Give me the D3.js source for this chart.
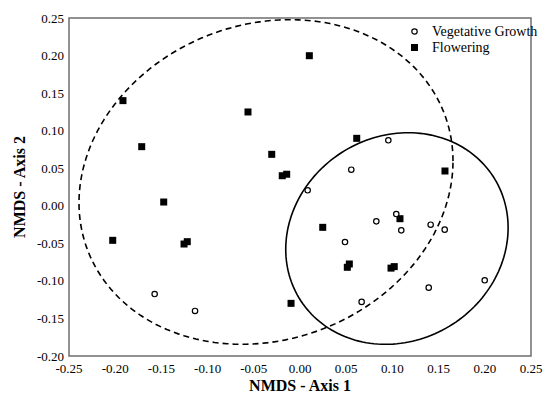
<!DOCTYPE html>
<html>
<head>
<meta charset="utf-8">
<script src="https://cdn.jsdelivr.net/npm/d3@7"></script>
<style>
  body { margin: 0; background: #fff; }
  text { font-family: "Liberation Serif", "Times New Roman", serif; fill: #000; }
  .tick-label { font-size: 13px; }
  .axis-label { font-size: 16px; font-weight: bold; }
  .legend-label { font-size: 14px; }
</style>
</head>
<body>
<div id="chart"></div>
<script>
// Vegetative growth (open circles)
const vegX = [0.0956, 0.0555, 0.0083, 0.0826, 0.0487, 0.0667, 0.1042, 0.1096, 0.1414, 0.1566, 0.1393, 0.1999, -0.1573, -0.1136];
const vegY = [0.0872, 0.0480, 0.0206, -0.0207, -0.0483, -0.1280, -0.0110, -0.0327, -0.0252, -0.0318, -0.1090, -0.0992, -0.1175, -0.1400];

// Flowering (filled squares)
const florX = [-0.1916, -0.1713, 0.0101, -0.0563, 0.0614, -0.0306, -0.0192, -0.0144, 0.1569, -0.1475, -0.2027, -0.1255, -0.1220, 0.0246, 0.0534, 0.0512, -0.0097, 0.1082, 0.0985, 0.1020];
const florY = [0.1400, 0.0787, 0.1998, 0.1249, 0.0898, 0.0685, 0.0400, 0.0420, 0.0463, 0.0050, -0.0460, -0.0509, -0.0478, -0.0287, -0.0775, -0.0819, -0.1299, -0.0172, -0.0830, -0.0810];

// group ellipses: centre, and covariance [varX, cov, varY]
const ellipseNames = ["Flowering", "Vegetative Growth"];
const ellipseCenters = [[-0.0368, 0.0317], [0.1049, -0.0436]];
const ellipseCov = [[0.04096, 0.00562, 0.04669], [0.01448, 0.00173, 0.01984]];

const xTicks = [-0.25, -0.20, -0.15, -0.10, -0.05, 0.00, 0.05, 0.10, 0.15, 0.20, 0.25];
const yTicks = [-0.20, -0.15, -0.10, -0.05, 0.00, 0.05, 0.10, 0.15, 0.20, 0.25];

const width = 545, height = 399;
const margin = { top: 18, right: 14, bottom: 43, left: 69 };
const innerW = width - margin.left - margin.right;
const innerH = height - margin.top - margin.bottom;

const svg = d3.select("#chart").append("svg")
    .attr("width", width)
    .attr("height", height);

const g = svg.append("g")
    .attr("transform", `translate(${margin.left},${margin.top})`);

const x = d3.scaleLinear().domain([-0.25, 0.25]).range([0, innerW]);
const y = d3.scaleLinear().domain([-0.20, 0.25]).range([innerH, 0]);

// frame
g.append("rect")
    .attr("x", 0).attr("y", 0)
    .attr("width", innerW).attr("height", innerH)
    .attr("fill", "none")
    .attr("stroke", "#6e6e6e")
    .attr("stroke-width", 1.5);

// tick labels
g.selectAll(".xt")
    .data(xTicks)
    .enter().append("text")
    .attr("class", "tick-label")
    .attr("x", d => x(d))
    .attr("y", innerH + 17)
    .attr("text-anchor", "middle")
    .text(d => d3.format(".2f")(d).replace("−", "-"));

g.selectAll(".yt")
    .data(yTicks)
    .enter().append("text")
    .attr("class", "tick-label")
    .attr("x", -5)
    .attr("y", d => y(d))
    .attr("dy", "0.35em")
    .attr("text-anchor", "end")
    .text(d => d3.format(".2f")(d).replace("−", "-"));

// axis titles
g.append("text")
    .attr("class", "axis-label")
    .attr("text-anchor", "middle")
    .attr("x", innerW / 2)
    .attr("y", innerH + 35)
    .text("NMDS - Axis 1");

g.append("text")
    .attr("class", "axis-label")
    .attr("text-anchor", "middle")
    .attr("transform", "rotate(-90)")
    .attr("x", -innerH / 2)
    .attr("y", -margin.left + 25)
    .text("NMDS - Axis 2");

// ellipses
function ellipsePoints(c, cov) {
    const l11 = Math.sqrt(cov[0]);
    const l21 = cov[1] / l11;
    const l22 = Math.sqrt(cov[2] - l21 * l21);
    return d3.range(0, 361, 2).map(deg => {
        const t = deg * Math.PI / 180;
        const u = Math.cos(t), v = Math.sin(t);
        return [c[0] + l11 * u, c[1] + l21 * u + l22 * v];
    });
}

const line = d3.line().x(d => x(d[0])).y(d => y(d[1])).curve(d3.curveLinearClosed);

ellipseNames.forEach((name, i) => {
    g.append("path")
        .attr("d", line(ellipsePoints(ellipseCenters[i], ellipseCov[i])))
        .attr("fill", "none")
        .attr("stroke", "#000")
        .attr("stroke-width", 1.6)
        .attr("stroke-dasharray", name === "Flowering" ? "6,4" : null);
});

// points
const veg = vegX.map((v, i) => [v, vegY[i]]);
const flor = florX.map((v, i) => [v, florY[i]]);

g.selectAll(".flor")
    .data(flor)
    .enter().append("rect")
    .attr("class", "flor")
    .attr("x", d => x(d[0]) - 3.5)
    .attr("y", d => y(d[1]) - 3.5)
    .attr("width", 7)
    .attr("height", 7)
    .attr("fill", "#000");

g.selectAll(".veg")
    .data(veg)
    .enter().append("circle")
    .attr("class", "veg")
    .attr("cx", d => x(d[0]))
    .attr("cy", d => y(d[1]))
    .attr("r", 2.7)
    .attr("fill", "#fff")
    .attr("stroke", "#000")
    .attr("stroke-width", 1.2);

// legend
const legend = g.append("g").attr("transform", `translate(${innerW - 126},13)`);
legend.append("circle")
    .attr("cx", 9.5).attr("cy", 0.5).attr("r", 2.7)
    .attr("fill", "#fff").attr("stroke", "#000").attr("stroke-width", 1.2);
legend.append("text")
    .attr("class", "legend-label")
    .attr("x", 27).attr("y", 0).attr("dy", "0.35em")
    .text("Vegetative Growth");
legend.append("rect")
    .attr("x", 6).attr("y", 13).attr("width", 7).attr("height", 7)
    .attr("fill", "#000");
legend.append("text")
    .attr("class", "legend-label")
    .attr("x", 27).attr("y", 16).attr("dy", "0.35em")
    .text("Flowering");
</script>
</body>
</html>
